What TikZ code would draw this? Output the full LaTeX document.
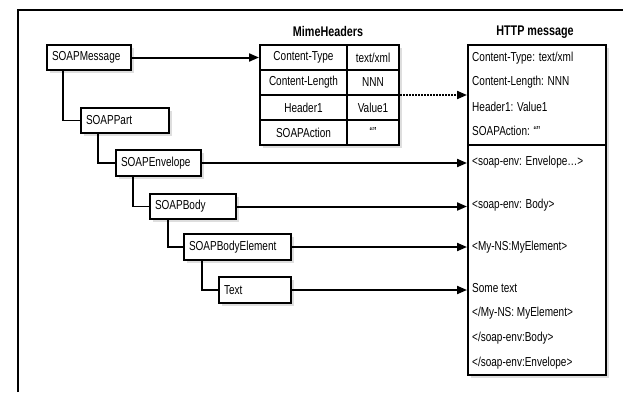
\documentclass[tikz,border=0pt]{standalone}
\usepackage{fontspec}
\setmainfont{Liberation Sans}[FakeStretch=0.77]
\usetikzlibrary{arrows.meta,shadows,calc}
\begin{document}
\begin{tikzpicture}[x=1pt,y=-1pt,font=\fontsize{13}{15}\selectfont]
\tikzset{
 shad/.style={drop shadow={shadow xshift=3pt,shadow yshift=-3pt,fill=black!25}},
 box/.style={draw,line width=2pt,fill=white,anchor=north west,inner xsep=5pt,inner ysep=0pt,align=left,shad},
 cell/.style={draw,line width=2pt,anchor=north west,inner sep=0pt,minimum height=25pt},
 conn/.style={line width=1.1pt},
 arr/.style={line width=2pt,-{Triangle[length=10pt,width=8pt]}},
 htxt/.style={anchor=west,inner sep=0pt},
 ttl/.style={font=\fontsize{14}{16}\selectfont\bfseries},
}
\fill[white] (0,0) rectangle (623,392);
\useasboundingbox (0,0) rectangle (623,392);
% frame
\draw[line width=2.2pt] (18,392) -- (18,10);
\draw[line width=1.2pt] (17,10) -- (623,10);

% tree boxes
\node[box,text width=74pt,minimum height=25pt] (msg) at (46,44) {SOAPMessage};
\node[box,text width=78pt,minimum height=25pt] (part) at (80,107) {SOAPPart};
\node[box,text width=75pt,minimum height=26pt] (env) at (115,149) {SOAPEnvelope};
\node[box,text width=76pt,minimum height=25pt] (body) at (149,193) {SOAPBody};
\node[box,text width=97pt,minimum height=26pt] (bel) at (183,233) {SOAPBodyElement};
\node[box,text width=62pt,minimum height=26pt] (txt) at (218,276) {Text};

\draw[conn] ($(msg.south west)+(17,0)$) |- (part.west);
\draw[conn] ($(part.south west)+(18,0)$) |- (env.west);
\draw[conn] ($(env.south west)+(18,0)$) |- (body.west);
\draw[conn] ($(body.south west)+(19,0)$) |- (bel.west);
\draw[conn] ($(bel.south west)+(19,0)$) |- (txt.west);

% MimeHeaders table
\node[ttl] (mt) at (328,31) {MimeHeaders};
\node[draw,line width=2pt,fill=white,anchor=north west,minimum width=139pt,minimum height=100pt,inner sep=0pt,shad] (tbl) at (259,44) {};
\node[cell,minimum width=87pt] (k1) at (259,44) {Content-Type};
\node[cell,minimum width=52pt] (v1) at (346,44) {text/xml};
\node[cell,minimum width=87pt] (k2) at (259,69) {Content-Length};
\node[cell,minimum width=52pt] (v2) at (346,69) {NNN};
\node[cell,minimum width=87pt] (k3) at (259,94) {Header1};
\node[cell,minimum width=52pt] (v3) at (346,94) {Value1};
\node[cell,minimum width=87pt] (k4) at (259,119) {SOAPAction};
\node[cell,minimum width=52pt] (v4) at (346,119) {“”};

% HTTP message
\node[ttl] (ht) at (535,32) {HTTP message};
\node[draw,line width=2pt,fill=white,anchor=north west,minimum width=138pt,minimum height=330pt,inner sep=0pt,shad] (http) at (467,44) {};
\coordinate (dv) at (467,145);
\draw[line width=2pt] (dv) -- (dv -| http.east);
\node[htxt] (h1) at (472,58) {Content-Type: text/xml};
\node[htxt] (h2) at (472,82) {Content-Length: NNN};
\node[htxt] (h3) at (472,107) {Header1: Value1};
\node[htxt] (h4) at (472,131) {SOAPAction: “”};
\node[htxt] (h5) at (472,162) {<soap-env: Envelope…>};
\node[htxt] (h6) at (472,205) {<soap-env: Body>};
\node[htxt] (h7) at (472,247) {<My-NS:MyElement>};
\node[htxt] (h8) at (472,288) {Some text};
\node[htxt] (h9) at (472,313) {</My-NS: MyElement>};
\node[htxt] (h10) at (472,338) {</soap-env:Body>};
\node[htxt] (h11) at (472,363) {</soap-env:Envelope>};

% arrows
\draw[arr] (msg.east) -- (msg.east -| tbl.west);
\draw[line width=2pt,dash pattern=on 1.6pt off 1.4pt,-{Triangle[length=10pt,width=8pt]}] (tbl.east) -- (tbl.east -| http.west);
\draw[arr] (env.east) -- (env.east -| http.west);
\draw[arr] (body.east) -- (body.east -| http.west);
\draw[arr] (bel.east) -- (bel.east -| http.west);
\draw[arr] (txt.east) -- (txt.east -| http.west);
\end{tikzpicture}
\end{document}
